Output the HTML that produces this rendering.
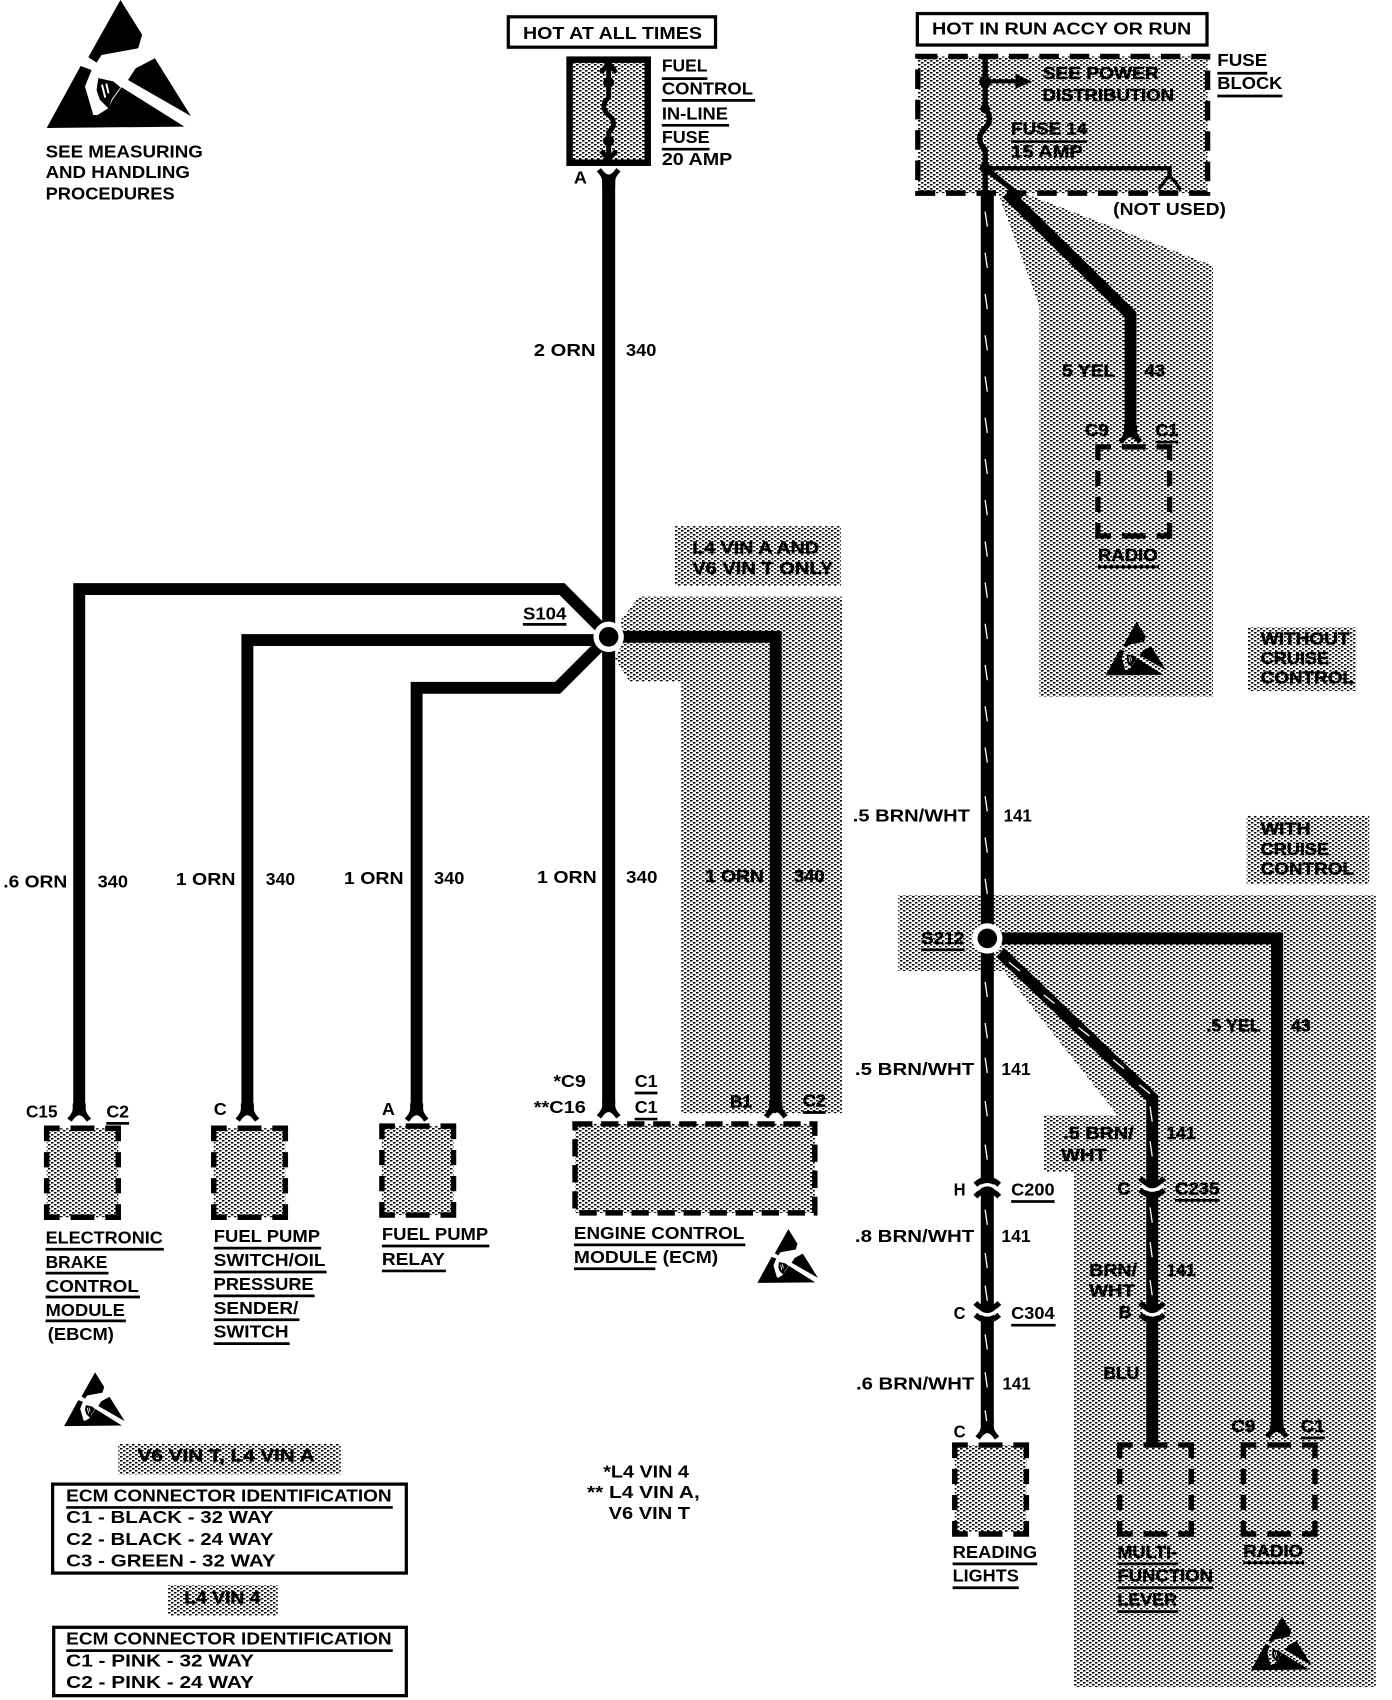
<!DOCTYPE html>
<html><head><meta charset="utf-8"><style>
html,body{margin:0;padding:0;background:#fff}
svg{display:block}
text{font-family:"Liberation Sans",sans-serif;font-weight:bold;font-size:16.5px;fill:#000}
.h text{stroke:#000;stroke-width:.5px}
</style></head><body>
<svg width="1392" height="1700" viewBox="0 0 1283 1567" preserveAspectRatio="none" xmlns="http://www.w3.org/2000/svg">
<defs>
<pattern id="st" patternUnits="userSpaceOnUse" width="5.53" height="3.687"><rect width="5.53" height="3.687" fill="#fff"/><rect x="0" y="0" width="2.3" height="1.45" fill="#000"/><rect x="2.765" y="1.843" width="2.3" height="1.45" fill="#000"/></pattern>
<path id="bx" d="M0,12V0H12M22,0H44M54,0H66V12M66,22V36M66,46V60M66,70V82H54M44,82H22M12,82H0V70M0,60V46M0,36V22" fill="none" stroke="#000" stroke-width="5"/>
<g id="esd">
<path d="M111,0L131,32L127.400,44.500L93.600,50.700L89,57.700L81.400,52.800Z"/>
<path d="M142.800,53.700L176,107L118,73.700L125,63Z"/>
<path d="M74.300,60.800L43,118L170,116.700L112,80.400L103.800,92L99.800,99.800L90,106L86,106L78.300,79.800L84.400,64.500Z"/>
<path d="M90.600,72L104.400,75L111,80.400L103,91.500L100,100L92,92L89,83Z"/>
<path d="M94,78L97,90M98,77L100,86" stroke="#fff" stroke-width="1.800" fill="none"/>
</g>
<path id="fk" d="M-6,-8L-6,-3Q-6,1 -11,6L-7,9Q-3,3 0,3Q3,3 7,9L11,6Q6,1 6,-3L6,-8Z"/>
<g id="cd">
<path d="M-11,-8Q0,4 11,-8" fill="none" stroke="#000" stroke-width="5"/>
<path d="M-10,-2Q0,8 10,-2" fill="none" stroke="#fff" stroke-width="3"/>
<path d="M-11,3Q0,13 11,3" fill="none" stroke="#000" stroke-width="5"/>
</g>
</defs>

<!-- stipple regions -->
<g fill="url(#st)">
<rect x="525" y="55" width="72" height="95"/>
<rect x="846" y="52" width="267" height="126"/>
<path d="M920,178L944,178L1118,245V642H958V282Z"/>
<rect x="622" y="485" width="153" height="55"/>
<path d="M589,550H776V1026H628V628H580L567,607L575,590L572,572Z"/>
<rect x="1150" y="578" width="100" height="59"/>
<rect x="1149" y="752" width="113" height="63"/>
<path d="M828,825H1268V1555H990V1080H962V1028H1030L925,895H900V895H828Z"/>
<rect x="43" y="1040" width="66" height="82"/><rect x="197" y="1040" width="66" height="82"/><rect x="352" y="1038" width="66" height="82"/>
<rect x="530" y="1036" width="221" height="82"/><rect x="880" y="1332" width="66" height="80"/>
<rect x="109" y="1331" width="205" height="28"/><rect x="155" y="1461" width="101" height="28"/>
</g>

<!-- esd icons -->
<use href="#esd"/>
<use href="#esd" transform="translate(41,1265) scale(.42)"/>
<use href="#esd" transform="translate(680,1133) scale(.42)"/>
<use href="#esd" transform="translate(1001,573) scale(.42)"/>
<use href="#esd" transform="translate(1135,1490) scale(.42)"/>

<!-- boxes -->
<g fill="#fff" stroke="#000"><rect x="468.500" y="15.500" width="191" height="28" stroke-width="3"/><rect x="845.500" y="12.500" width="267" height="29" stroke-width="3"/></g>
<rect x="525" y="55" width="72" height="95" fill="none" stroke="#000" stroke-width="6"/>
<rect x="846" y="52" width="267" height="126" fill="none" stroke="#000" stroke-width="5" stroke-dasharray="18 10"/>
<rect x="530" y="1036" width="221" height="82" fill="none" stroke="#000" stroke-width="5" stroke-dasharray="16 8"/>
<rect x="48.500" y="1368" width="326" height="82" fill="none" stroke="#000" stroke-width="3"/>
<rect x="49.500" y="1500" width="325" height="63" fill="none" stroke="#000" stroke-width="3"/>
<use href="#bx" x="43" y="1040"/><use href="#bx" x="197" y="1040"/><use href="#bx" x="352" y="1038"/>
<use href="#bx" x="880" y="1332"/><use href="#bx" x="1032" y="1332"/><use href="#bx" x="1146" y="1332"/><use href="#bx" x="1012" y="412"/>

<!-- wires -->
<g fill="none" stroke="#000" stroke-width="11">
<path d="M561,165V1018" stroke-width="12"/>
<path d="M73,1020V543H518L553,578"/>
<path d="M228,1020V590H553"/>
<path d="M384,1020V634H514L553,595"/>
<path d="M572,587H715V1018"/>
<path d="M910,178V1312" stroke-width="12"/>
<path d="M928,178L1042,290V395"/>
<path d="M920,865H1177V1312"/>
<path d="M922,878L1062,1012V1332"/>
</g>
<!-- white tracer dashes -->
<g stroke="#fff" stroke-width="1.200" fill="none">
<path d="M908,195l2,14M908,233l2,14M908,271l2,14M908,309l2,14M908,347l2,14M908,385l2,14M908,423l2,14M908,461l2,14M908,499l2,14M908,537l2,14M908,575l2,14M908,613l2,14M908,651l2,14M908,689l2,14M908,734l2,14M908,772l2,14M908,810l2,14M908,905l2,14M908,943l2,14M908,975l2,14M908,1015l2,14M908,1055l2,14M908,1115l2,14M908,1155l2,14M908,1185l2,14M908,1230l2,14M908,1265l2,14M908,1300l2,14"/>
<path d="M930,887l10,8M962,917l10,8M994,947l10,8M1026,977l10,8M1050,1000l10,8M1060,1020l2,14M1060,1052l2,14M1060,1113l2,14M1060,1145l2,14M1060,1180l2,14"/>
</g>

<!-- nodes -->
<circle cx="561" cy="587" r="14" fill="#fff"/><circle cx="561" cy="587" r="9"/>
<circle cx="910" cy="865" r="14" fill="#fff"/><circle cx="910" cy="865" r="9"/>

<!-- connector forks -->
<use href="#fk" x="73" y="1025"/><use href="#fk" x="228" y="1025"/><use href="#fk" x="384" y="1025"/><use href="#fk" x="561" y="1022"/><use href="#fk" x="715" y="1022"/>
<use href="#fk" x="910" y="1318"/><use href="#fk" x="1177" y="1317"/><use href="#fk" x="1042" y="400"/>
<use href="#fk" transform="translate(561,164) scale(1,-1)"/>
<path d="M1068,175Q1072,168 1078,162Q1084,168 1088,175" fill="none" stroke="#000" stroke-width="3"/>
<use href="#cd" transform="translate(910,1095) scale(1,-1)"/>
<use href="#cd" x="910" y="1209"/>
<use href="#cd" x="1062" y="1094"/>
<use href="#cd" x="1062" y="1209"/>

<!-- fuse 1 internals -->
<g fill="none" stroke="#000" stroke-width="4.500">
<path d="M561,60V75Q561,85 561,90Q552,98 561,106Q570,114 561,122V145"/>
<path d="M554,67L561,58L568,67M554,139L561,147L568,139"/>
</g>
<circle cx="561" cy="76" r="5"/><circle cx="561" cy="130" r="5"/>

<!-- fuse block internals -->
<g fill="none" stroke="#000" stroke-width="5">
<path d="M908,52V100Q916,110 908,118Q898,128 908,138V178"/>
<path d="M908,75H938" stroke-width="4"/>
<path d="M908,155H1078V165" stroke-width="4"/>
<path d="M908,155L942,182"/>
</g>
<path d="M936,68L951,75L936,82Z"/><circle cx="908" cy="75" r="5.500"/><circle cx="908" cy="100" r="4.500"/><circle cx="908" cy="155" r="5"/>

<!-- underlines -->
<path d="M610,72.500H652M610,92.500H696M610,115.500H672M610,137.500H654M1122,67.500H1168M1122,88.500H1182M932,130.500H1002M1065,407.500H1086M1012,522.500H1068M482,575.500H522M849,875.500H889M98,1035.500H119M585,1007.500H606M585,1031.500H606M740,1025.500H761M42,1151.500H151M42,1173.500H100M42,1195.500H129M42,1217.500H116M197,1150.500H296M197,1172.500H301M197,1194.500H290M197,1216.500H276M197,1238.500H267M352,1148.500H451M352,1171.500H411M529,1147.500H687M529,1169.500H604M61,1389.500H362M61,1521.500H362M932,1107.500H972M1083,1106.500H1124M932,1221.500H973M1199,1325.500H1221M878,1441.500H956M878,1463.500H939M1030,1441.500H1086M1030,1463.500H1118M1030,1485.500H1086M1146,1440.500H1202" stroke="#000" stroke-width="2.500" fill="none"/>

<!-- text on white -->
<g>
<text x="42" y="145" textLength="145" lengthAdjust="spacingAndGlyphs">SEE MEASURING</text>
<text x="42" y="164" textLength="133" lengthAdjust="spacingAndGlyphs">AND HANDLING</text>
<text x="42" y="184" textLength="119" lengthAdjust="spacingAndGlyphs">PROCEDURES</text>
<text x="482" y="36" textLength="165" lengthAdjust="spacingAndGlyphs">HOT AT ALL TIMES</text>
<text x="610" y="66" textLength="42" lengthAdjust="spacingAndGlyphs">FUEL</text>
<text x="610" y="87" textLength="84" lengthAdjust="spacingAndGlyphs">CONTROL</text>
<text x="610" y="110" textLength="61" lengthAdjust="spacingAndGlyphs">IN-LINE</text>
<text x="610" y="132" textLength="44" lengthAdjust="spacingAndGlyphs">FUSE</text>
<text x="610" y="152" textLength="65" lengthAdjust="spacingAndGlyphs">20 AMP</text>
<text x="529" y="169" textLength="12" lengthAdjust="spacingAndGlyphs">A</text>
<text x="492" y="328" textLength="57" lengthAdjust="spacingAndGlyphs">2 ORN</text>
<text x="577" y="328" textLength="28" lengthAdjust="spacingAndGlyphs">340</text>
<text x="859" y="32" textLength="239" lengthAdjust="spacingAndGlyphs">HOT IN RUN ACCY OR RUN</text>
<text x="1122" y="61" textLength="46" lengthAdjust="spacingAndGlyphs">FUSE</text>
<text x="1122" y="82" textLength="60" lengthAdjust="spacingAndGlyphs">BLOCK</text>
<text x="1026" y="198" textLength="104" lengthAdjust="spacingAndGlyphs">(NOT USED)</text>
<text x="482" y="571" textLength="40" lengthAdjust="spacingAndGlyphs">S104</text>
<text x="786" y="757" textLength="108" lengthAdjust="spacingAndGlyphs">.5 BRN/WHT</text>
<text x="925" y="757" textLength="26" lengthAdjust="spacingAndGlyphs">141</text>
<text x="3" y="818" textLength="59" lengthAdjust="spacingAndGlyphs">.6 ORN</text>
<text x="90" y="818" textLength="28" lengthAdjust="spacingAndGlyphs">340</text>
<text x="162" y="816" textLength="55" lengthAdjust="spacingAndGlyphs">1 ORN</text>
<text x="245" y="816" textLength="27" lengthAdjust="spacingAndGlyphs">340</text>
<text x="317" y="815" textLength="55" lengthAdjust="spacingAndGlyphs">1 ORN</text>
<text x="400" y="815" textLength="28" lengthAdjust="spacingAndGlyphs">340</text>
<text x="495" y="814" textLength="55" lengthAdjust="spacingAndGlyphs">1 ORN</text>
<text x="577" y="814" textLength="29" lengthAdjust="spacingAndGlyphs">340</text>
<text x="788" y="991" textLength="110" lengthAdjust="spacingAndGlyphs">.5 BRN/WHT</text>
<text x="923" y="991" textLength="27" lengthAdjust="spacingAndGlyphs">141</text>
<text x="24" y="1030" textLength="29" lengthAdjust="spacingAndGlyphs">C15</text>
<text x="98" y="1030" textLength="21" lengthAdjust="spacingAndGlyphs">C2</text>
<text x="197" y="1028" textLength="12" lengthAdjust="spacingAndGlyphs">C</text>
<text x="352" y="1028" textLength="12" lengthAdjust="spacingAndGlyphs">A</text>
<text x="510" y="1002" textLength="30" lengthAdjust="spacingAndGlyphs">*C9</text>
<text x="585" y="1002" textLength="21" lengthAdjust="spacingAndGlyphs">C1</text>
<text x="492" y="1026" textLength="48" lengthAdjust="spacingAndGlyphs">**C16</text>
<text x="585" y="1026" textLength="21" lengthAdjust="spacingAndGlyphs">C1</text>
<text x="42" y="1146" textLength="108" lengthAdjust="spacingAndGlyphs">ELECTRONIC</text>
<text x="42" y="1169" textLength="57" lengthAdjust="spacingAndGlyphs">BRAKE</text>
<text x="42" y="1191" textLength="86" lengthAdjust="spacingAndGlyphs">CONTROL</text>
<text x="42" y="1213" textLength="73" lengthAdjust="spacingAndGlyphs">MODULE</text>
<text x="44" y="1235" textLength="61" lengthAdjust="spacingAndGlyphs">(EBCM)</text>
<text x="197" y="1145" textLength="98" lengthAdjust="spacingAndGlyphs">FUEL PUMP</text>
<text x="197" y="1167" textLength="103" lengthAdjust="spacingAndGlyphs">SWITCH/OIL</text>
<text x="197" y="1189" textLength="92" lengthAdjust="spacingAndGlyphs">PRESSURE</text>
<text x="197" y="1211" textLength="78" lengthAdjust="spacingAndGlyphs">SENDER/</text>
<text x="197" y="1233" textLength="69" lengthAdjust="spacingAndGlyphs">SWITCH</text>
<text x="352" y="1143" textLength="98" lengthAdjust="spacingAndGlyphs">FUEL PUMP</text>
<text x="352" y="1166" textLength="58" lengthAdjust="spacingAndGlyphs">RELAY</text>
<text x="529" y="1142" textLength="157" lengthAdjust="spacingAndGlyphs">ENGINE CONTROL</text>
<text x="529" y="1164" textLength="133" lengthAdjust="spacingAndGlyphs">MODULE (ECM)</text>
<text x="61" y="1384" textLength="300" lengthAdjust="spacingAndGlyphs">ECM CONNECTOR IDENTIFICATION</text>
<text x="61" y="1404" textLength="191" lengthAdjust="spacingAndGlyphs">C1 - BLACK - 32 WAY</text>
<text x="61" y="1424" textLength="191" lengthAdjust="spacingAndGlyphs">C2 - BLACK - 24 WAY</text>
<text x="61" y="1444" textLength="193" lengthAdjust="spacingAndGlyphs">C3 - GREEN - 32 WAY</text>
<text x="61" y="1516" textLength="300" lengthAdjust="spacingAndGlyphs">ECM CONNECTOR IDENTIFICATION</text>
<text x="61" y="1536" textLength="173" lengthAdjust="spacingAndGlyphs">C1 - PINK - 32 WAY</text>
<text x="61" y="1556" textLength="173" lengthAdjust="spacingAndGlyphs">C2 - PINK - 24 WAY</text>
<text x="556" y="1362" textLength="79" lengthAdjust="spacingAndGlyphs">*L4 VIN 4</text>
<text x="541" y="1381" textLength="104" lengthAdjust="spacingAndGlyphs">** L4 VIN A,</text>
<text x="561" y="1400" textLength="75" lengthAdjust="spacingAndGlyphs">V6 VIN T</text>
<text x="879" y="1102" textLength="11" lengthAdjust="spacingAndGlyphs">H</text>
<text x="932" y="1102" textLength="40" lengthAdjust="spacingAndGlyphs">C200</text>
<text x="788" y="1145" textLength="110" lengthAdjust="spacingAndGlyphs">.8 BRN/WHT</text>
<text x="923" y="1145" textLength="27" lengthAdjust="spacingAndGlyphs">141</text>
<text x="879" y="1216" textLength="11" lengthAdjust="spacingAndGlyphs">C</text>
<text x="932" y="1216" textLength="40" lengthAdjust="spacingAndGlyphs">C304</text>
<text x="789" y="1281" textLength="109" lengthAdjust="spacingAndGlyphs">.6 BRN/WHT</text>
<text x="924" y="1281" textLength="26" lengthAdjust="spacingAndGlyphs">141</text>
<text x="879" y="1325" textLength="11" lengthAdjust="spacingAndGlyphs">C</text>
<text x="878" y="1436" textLength="78" lengthAdjust="spacingAndGlyphs">READING</text>
<text x="878" y="1458" textLength="61" lengthAdjust="spacingAndGlyphs">LIGHTS</text>
</g>

<!-- text on stipple -->
<g class="h">
<text x="961" y="73" textLength="107" lengthAdjust="spacingAndGlyphs">SEE POWER</text>
<text x="961" y="93" textLength="121" lengthAdjust="spacingAndGlyphs">DISTRIBUTION</text>
<text x="932" y="124" textLength="70" lengthAdjust="spacingAndGlyphs">FUSE 14</text>
<text x="932" y="145" textLength="66" lengthAdjust="spacingAndGlyphs">15 AMP</text>
<text x="979" y="347" textLength="49" lengthAdjust="spacingAndGlyphs">5 YEL</text>
<text x="1055" y="347" textLength="19" lengthAdjust="spacingAndGlyphs">43</text>
<text x="1000" y="402" textLength="22" lengthAdjust="spacingAndGlyphs">C9</text>
<text x="1065" y="402" textLength="21" lengthAdjust="spacingAndGlyphs">C1</text>
<text x="1012" y="517" textLength="55" lengthAdjust="spacingAndGlyphs">RADIO</text>
<text x="1162" y="594" textLength="82" lengthAdjust="spacingAndGlyphs">WITHOUT</text>
<text x="1162" y="612" textLength="63" lengthAdjust="spacingAndGlyphs">CRUISE</text>
<text x="1162" y="630" textLength="86" lengthAdjust="spacingAndGlyphs">CONTROL</text>
<text x="638" y="510" textLength="117" lengthAdjust="spacingAndGlyphs">L4 VIN A AND</text>
<text x="638" y="529" textLength="130" lengthAdjust="spacingAndGlyphs">V6 VIN T ONLY</text>
<text x="1162" y="769" textLength="46" lengthAdjust="spacingAndGlyphs">WITH</text>
<text x="1162" y="788" textLength="63" lengthAdjust="spacingAndGlyphs">CRUISE</text>
<text x="1162" y="806" textLength="86" lengthAdjust="spacingAndGlyphs">CONTROL</text>
<text x="849" y="870" textLength="40" lengthAdjust="spacingAndGlyphs">S212</text>
<text x="650" y="813" textLength="54" lengthAdjust="spacingAndGlyphs">1 ORN</text>
<text x="732" y="813" textLength="28" lengthAdjust="spacingAndGlyphs">340</text>
<text x="1112" y="951" textLength="50" lengthAdjust="spacingAndGlyphs">.5 YEL</text>
<text x="1190" y="951" textLength="18" lengthAdjust="spacingAndGlyphs">43</text>
<text x="673" y="1021" textLength="20" lengthAdjust="spacingAndGlyphs">B1</text>
<text x="740" y="1020" textLength="21" lengthAdjust="spacingAndGlyphs">C2</text>
<text x="127" y="1347" textLength="163" lengthAdjust="spacingAndGlyphs">V6 VIN T, L4 VIN A</text>
<text x="170" y="1478" textLength="70" lengthAdjust="spacingAndGlyphs">L4 VIN 4</text>
<text x="980" y="1050" textLength="65" lengthAdjust="spacingAndGlyphs">.5 BRN/</text>
<text x="978" y="1070" textLength="42" lengthAdjust="spacingAndGlyphs">WHT</text>
<text x="1075" y="1050" textLength="27" lengthAdjust="spacingAndGlyphs">141</text>
<text x="1030" y="1101" textLength="12" lengthAdjust="spacingAndGlyphs">C</text>
<text x="1083" y="1101" textLength="41" lengthAdjust="spacingAndGlyphs">C235</text>
<text x="1004" y="1176" textLength="44" lengthAdjust="spacingAndGlyphs">BRN/</text>
<text x="1075" y="1176" textLength="27" lengthAdjust="spacingAndGlyphs">141</text>
<text x="1004" y="1195" textLength="42" lengthAdjust="spacingAndGlyphs">WHT</text>
<text x="1031" y="1215" textLength="12" lengthAdjust="spacingAndGlyphs">B</text>
<text x="1017" y="1271" textLength="33" lengthAdjust="spacingAndGlyphs">BLU</text>
<text x="1135" y="1320" textLength="22" lengthAdjust="spacingAndGlyphs">C9</text>
<text x="1199" y="1320" textLength="22" lengthAdjust="spacingAndGlyphs">C1</text>
<text x="1030" y="1436" textLength="55" lengthAdjust="spacingAndGlyphs">MULTI-</text>
<text x="1030" y="1458" textLength="88" lengthAdjust="spacingAndGlyphs">FUNCTION</text>
<text x="1030" y="1480" textLength="55" lengthAdjust="spacingAndGlyphs">LEVER</text>
<text x="1146" y="1435" textLength="55" lengthAdjust="spacingAndGlyphs">RADIO</text>
</g>
</svg>
</body></html>
